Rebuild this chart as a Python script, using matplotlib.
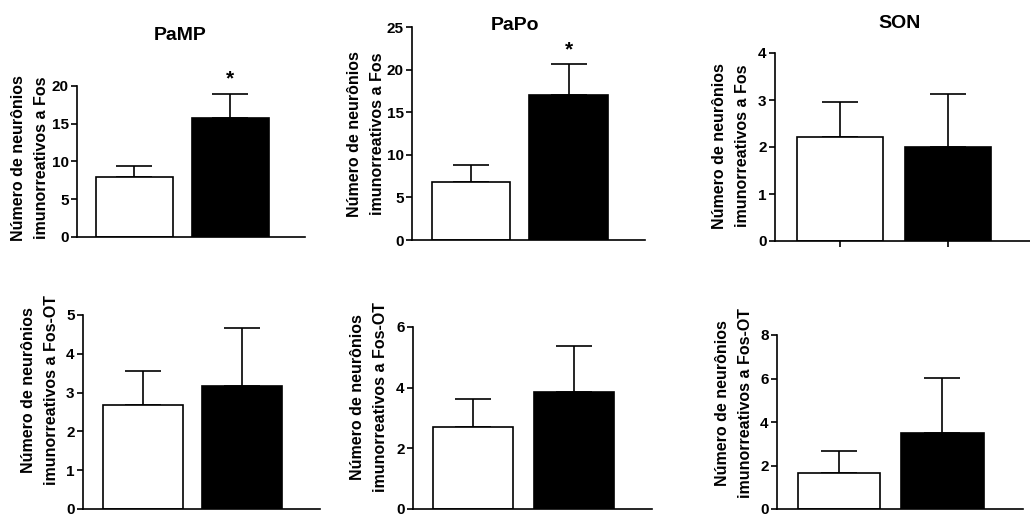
import matplotlib
matplotlib.use('Agg')
import matplotlib.pyplot as plt

# dados (media e erro padrao, controle = branco, tratado = preto)
regions = ['PaMP', 'PaPo', 'SON']
fos_ctrl = [8.0, 6.8, 2.21]
fos_ctrl_err = [1.35, 2.0, 0.75]
fos_trt = [15.7, 17.0, 2.0]
fos_trt_err = [3.3, 3.6, 1.13]
fosot_ctrl = [2.69, 2.70, 1.66]
fosot_ctrl_err = [0.86, 0.93, 0.99]
fosot_trt = [3.17, 3.85, 3.5]
fosot_trt_err = [1.5, 1.51, 2.52]
signif_fos = [True, True, False]
yticks_fos = [[0, 5, 10, 15, 20], [0, 5, 10, 15, 20, 25], [0, 1, 2, 3, 4]]
yticks_fosot = [[0, 1, 2, 3, 4, 5], [0, 2, 4, 6], [0, 2, 4, 6, 8]]
label_fos = 'Número de neurônios\nimunorreativos a Fos'
label_fosot = 'Número de neurônios\nimunorreativos a Fos-OT'

W, H = 1030, 517

plt.rcParams['font.family'] = ['Liberation Sans', 'DejaVu Sans']
plt.rcParams['font.weight'] = 'bold'

fig = plt.figure(figsize=(W / 100, H / 100), dpi=100)

# caixas dos eixos em pixels: esquerda, direita, topo, base
boxes = [
    (77, 305, 86, 237), (412, 645, 27, 240), (775, 1032, 53, 241),
    (83, 320, 315, 509), (413, 652, 327, 509), (777, 1023, 335, 509),
]
label_pos = [(30, 158), (366, 134), (731, 146), (40, 390), (369, 397), (734, 403)]
title_pos = [(180, 35), (515, 25), (900, 23)]


def panel(i, ctrl, ctrl_err, trt, trt_err, yt, ylab, star=False, xticks=False):
    l, r, t, b = boxes[i]
    ax = fig.add_axes([l / W, (H - b) / H, (r - l) / W, (b - t) / H])
    ax.bar([0, 1], [ctrl, trt], width=0.8, color=['white', 'black'],
           edgecolor='black', linewidth=1.2, zorder=2)
    ax.errorbar([0, 1], [ctrl, trt], yerr=[[0, 0], [ctrl_err, trt_err]],
                fmt='none', ecolor='black', elinewidth=1.2, capsize=13,
                capthick=1.2, zorder=1)
    ax.set_xlim(-0.6, 1.78)
    ax.set_ylim(0, yt[-1])
    ax.set_yticks(yt)
    ax.set_yticklabels([str(v) for v in yt], fontsize=11, fontweight='bold')
    ax.tick_params(axis='y', length=4, width=1.2, pad=2)
    if xticks:
        ax.set_xticks([0, 1])
        ax.set_xticklabels(['', ''])
        ax.tick_params(axis='x', length=4, width=1.2)
    else:
        ax.set_xticks([])
    for s in ['top', 'right']:
        ax.spines[s].set_visible(False)
    for s in ['left', 'bottom']:
        ax.spines[s].set_linewidth(1.2)
    ax.patch.set_alpha(0)
    if star:
        ax.annotate('*', xy=(1, trt + trt_err), xytext=(0, 4),
                    textcoords='offset points', ha='center', va='bottom',
                    fontsize=15, fontweight='bold')
    lx, ly = label_pos[i]
    fig.text(lx / W, 1 - ly / H, ylab, rotation=90, ha='center', va='center',
             multialignment='center', fontsize=11.5, fontweight='bold',
             linespacing=1.6)
    return ax


for i in range(3):
    panel(i, fos_ctrl[i], fos_ctrl_err[i], fos_trt[i], fos_trt_err[i],
          yticks_fos[i], label_fos, star=signif_fos[i], xticks=(i == 2))
    tx, ty = title_pos[i]
    fig.text(tx / W, 1 - ty / H, regions[i], ha='center', va='center',
             fontsize=14, fontweight='bold')
    panel(i + 3, fosot_ctrl[i], fosot_ctrl_err[i], fosot_trt[i], fosot_trt_err[i],
          yticks_fosot[i], label_fosot)

fig.savefig('out.png', dpi=100)
